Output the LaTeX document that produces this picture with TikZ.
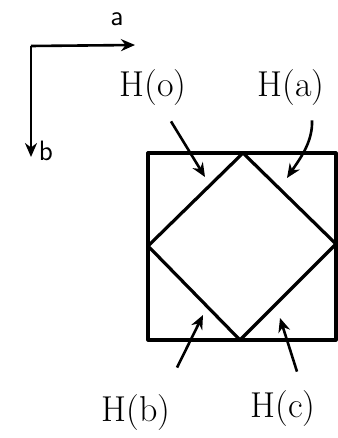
\documentclass[tikz,border=0pt]{standalone}
\usepackage{tikz}
\usetikzlibrary{arrows.meta,positioning,calc}

\begin{document}
\begin{tikzpicture}[x=0.5pt,y=-0.5pt,
    lbl/.style={font=\fontsize{18}{20}\selectfont,inner sep=0pt},
    axlbl/.style={font=\fontsize{14}{16}\selectfont\sffamily,inner sep=0pt},
    pointer/.style={-{Stealth[length=7pt,width=6pt]},line width=1.3pt},
    edge/.style={line width=1.6pt,line join=round}]
      \useasboundingbox (0,0) rectangle (337,438);
      % axes
      \coordinate (o) at (31,46);
      \coordinate (ea) at (135,45);
      \coordinate (eb) at (31,157);
      \draw[pointer] (o) -- (ea);
      \draw[pointer] (o) -- (eb);
      \node[axlbl] (la) at (117,19) {a};
      \node[axlbl] (lb) at (46,151) {b};
      % square and diamond
      \coordinate (sq1) at (148,153);
      \coordinate (sq2) at (336,340);
      \coordinate (dt) at (243,153);
      \coordinate (dr) at (336,244);
      \coordinate (db) at (240,340);
      \coordinate (dl) at (148,246);
      \draw[edge] (sq1) rectangle (sq2);
      \draw[edge] (dt) -- (dr) -- (db) -- (dl) -- cycle;
      % labels and their pointers
      \node[lbl] (ho) at (153,88) {H(o)};
      \node[lbl] (ha) at (291,88) {H(a)};
      \node[lbl] (hb) at (136,413) {H(b)};
      \node[lbl] (hc) at (283,409) {H(c)};
      \coordinate (tho) at (205,177);
      \coordinate (tha) at (287,178);
      \coordinate (thb) at (203,315);
      \coordinate (thc) at (280,318);
      \draw[pointer] ($(ho.south)+(18,15)$) -- (tho);
      \draw[pointer] ($(ha.south)+(21,14)$) .. controls +(1,22) and +(12,-18) .. (tha);
      \draw[pointer] ($(hb.north)+(41,-27)$) -- (thb);
      \draw[pointer] ($(hc.north)+(14,-19)$) -- (thc);
    \end{tikzpicture}
\end{document}
